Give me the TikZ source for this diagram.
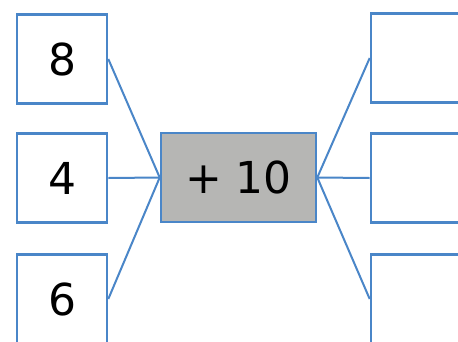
\documentclass[tikz,border=0pt]{standalone}
\usepackage{fontspec}
\setmainfont{DejaVu Sans}
\definecolor{bordblue}{HTML}{4A86C8}
\definecolor{boxgray}{HTML}{B6B6B4}
\begin{document}
\begin{tikzpicture}[x=1pt,y=-1pt,
  numbox/.style={draw=bordblue,line width=2.6pt,fill=white,minimum width=90pt,minimum height=89pt,inner sep=0pt,font=\fontsize{44}{48}\selectfont},
  opbox/.style={draw=bordblue,line width=2.6pt,fill=boxgray,minimum width=155pt,minimum height=89pt,inner sep=0pt,font=\fontsize{44}{48}\selectfont},
  conn/.style={draw=bordblue,line width=2pt}]
\useasboundingbox (0,0) rectangle (458,341);
\clip (0,0) rectangle (458,341);
\fill[white] (0,0) rectangle (458,341);
\node[numbox] (a) at (62,59) {8};
\node[numbox] (b) at (62,178) {4};
\node[numbox] (c) at (62,299) {6};
\node[opbox] (op) at (238.5,177.5) {+ 10};
\node[numbox] (d) at (416,58) {};
\node[numbox] (e) at (416,178) {};
\node[numbox] (f) at (416,299) {};
\draw[conn] (a.east) -- (op.west);
\draw[conn] (b.east) -- (op.west);
\draw[conn] (c.east) -- (op.west);
\draw[conn] (op.east) -- (d.west);
\draw[conn] (op.east) -- (e.west);
\draw[conn] (op.east) -- (f.west);
\end{tikzpicture}
\end{document}
